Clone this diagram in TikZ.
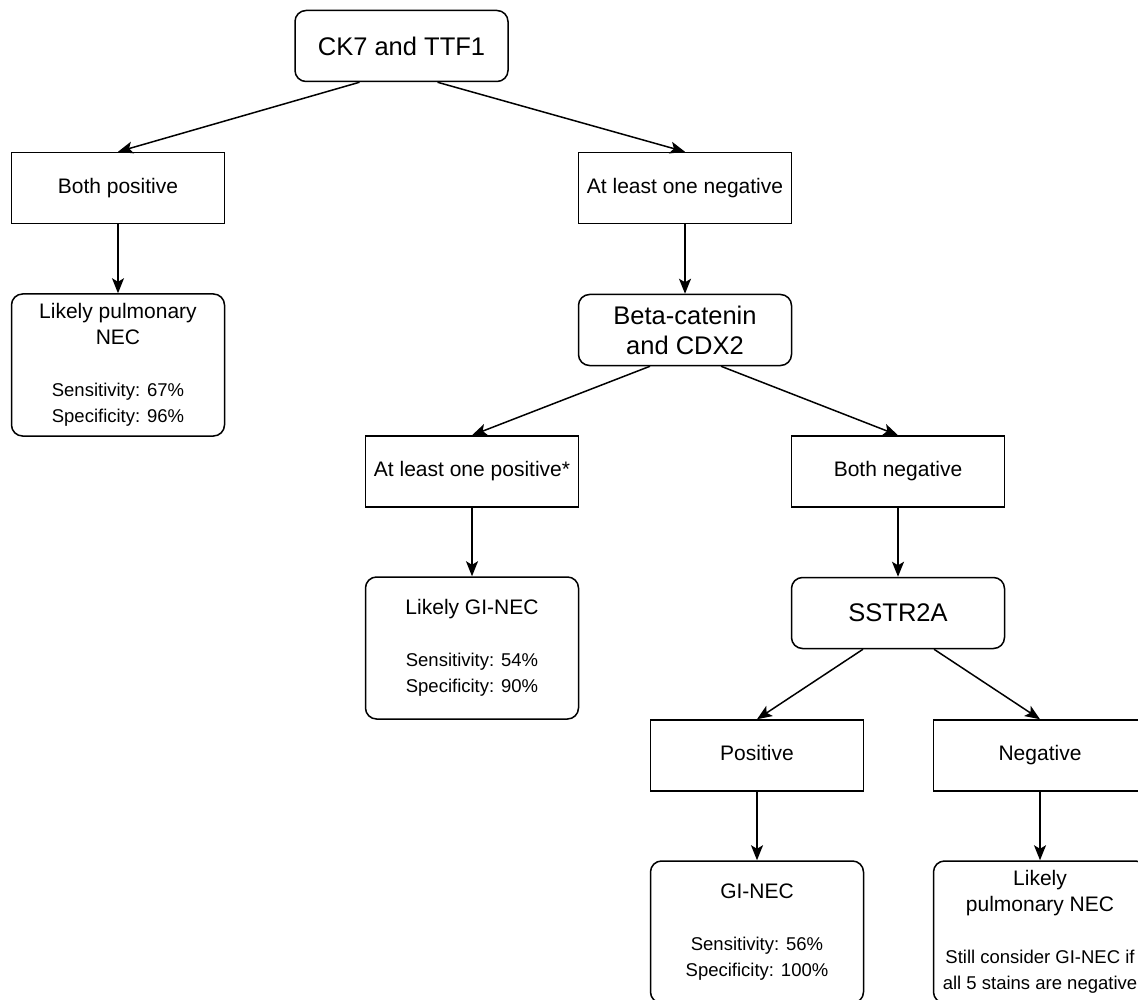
\documentclass[tikz,border=0pt]{standalone}
\usepackage{fontspec}
\setmainfont{Liberation Sans}
\usepackage{tikz}
\usetikzlibrary{arrows.meta}
\newcommand{\bigtxt}{\fontsize{25.5}{30}\selectfont}
\newcommand{\midtxt}{\fontsize{21}{26}\selectfont}
\newcommand{\smalltxt}{\fontsize{18.5}{25}\selectfont}

\begin{document}
\begin{tikzpicture}[x=1pt,y=-1pt,
    box/.style={draw, line width=1.5pt, minimum width=213pt, minimum height=71pt, inner sep=0pt, align=center},
    test/.style={box, rounded corners=11pt, font=\bigtxt},
    branch/.style={box, font=\midtxt, text height=15pt, text depth=4.5pt},
    result/.style={box, rounded corners=11pt, minimum height=142pt, font=\midtxt},
    arr/.style={line width=1.5pt, -{Stealth[length=15pt,width=12pt,inset=3.5pt]}}]
    \useasboundingbox (0,0) rectangle (1138,1000);
    \clip (0,0) rectangle (1138,1000);
    % first test
    \node[test] (ck) at (401.5,46) {CK7 and TTF1};
    \node[branch] (bpos) at (118,188) {Both positive};
    \node[branch] (oneneg) at (685,188) {At least one negative};
    \node[result] (pulm) at (118,365) {Likely pulmonary\\NEC\\[26pt]{\smalltxt Sensitivity: 67\%}\\{\smalltxt Specificity: 96\%}};
    % second test
    \node[test] (beta) at (685,330) {Beta-catenin\\and CDX2};
    \node[branch] (onepos) at (472,471.5) {At least one positive*};
    \node[branch] (bneg) at (898,471.5) {Both negative};
    \node[result] (likelygi) at (472,648) {Likely GI-NEC\\[26pt]{\smalltxt Sensitivity: 54\%}\\{\smalltxt Specificity: 90\%}};
    % third test
    \node[test] (sstr) at (898,613) {SSTR2A};
    \node[branch] (pos) at (757,755.5) {Positive};
    \node[branch] (neg) at (1040,755.5) {Negative};
    \node[result] (gi) at (757,932) {GI-NEC\\[26pt]{\smalltxt Sensitivity: 56\%}\\{\smalltxt Specificity: 100\%}};
    \node[result] (pulmtwo) at (1040,932) {Likely\\pulmonary NEC\\[26pt]{\smalltxt Still consider GI-NEC if}\\{\smalltxt all 5 stains are negative}};
    % arrows
    \draw[arr] ([xshift=-42pt]ck.south) -- (bpos.north);
    \draw[arr] ([xshift=36pt]ck.south) -- (oneneg.north);
    \draw[arr] (bpos) -- (pulm);
    \draw[arr] (oneneg) -- (beta);
    \draw[arr] ([xshift=-35pt]beta.south) -- (onepos.north);
    \draw[arr] ([xshift=36pt]beta.south) -- (bneg.north);
    \draw[arr] (onepos) -- (likelygi);
    \draw[arr] (bneg) -- (sstr);
    \draw[arr] ([xshift=-35pt]sstr.south) -- (pos.north);
    \draw[arr] ([xshift=36pt]sstr.south) -- (neg.north);
    \draw[arr] (pos) -- (gi);
    \draw[arr] (neg) -- (pulmtwo);
\end{tikzpicture}
\end{document}
